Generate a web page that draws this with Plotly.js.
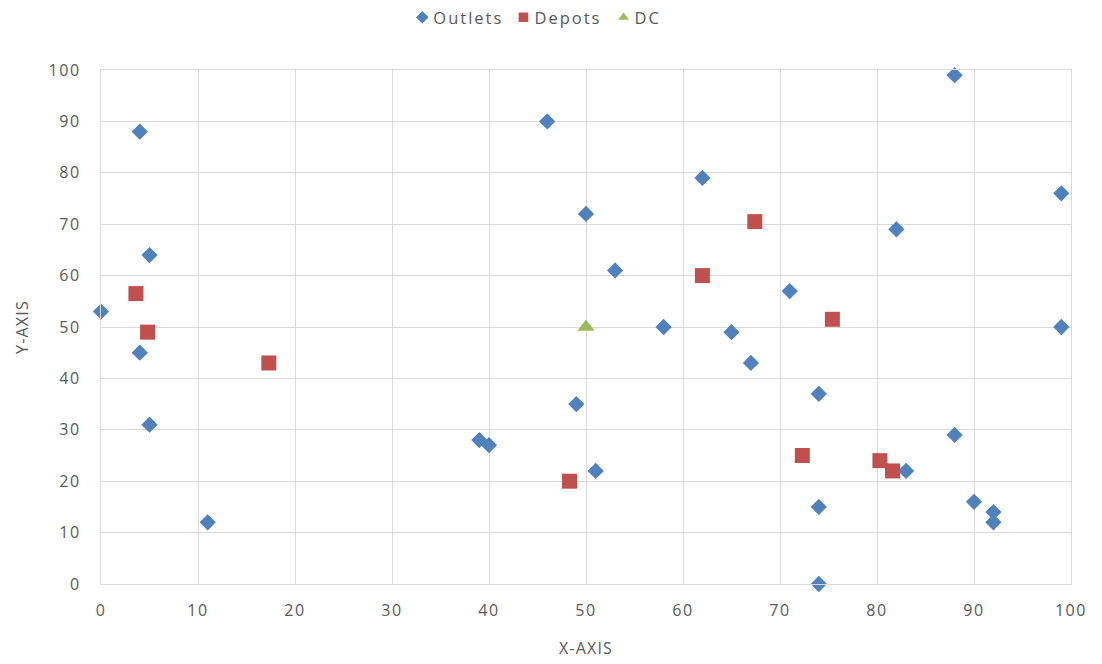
<!DOCTYPE html>
<html>
<head>
<meta charset="utf-8">
<script src="https://cdn.plot.ly/plotly-3.0.1.min.js"></script>
<style>
  html, body { margin: 0; padding: 0; background: #ffffff; }
  #chart { width: 1102px; height: 664px; }
  /* slightly spaced lettering on axis and legend text */
  #chart .xtick text, #chart .ytick text { letter-spacing: 1.6px; }
  #chart .legendtext { letter-spacing: 2px; }
  #chart .g-xtitle text, #chart .g-ytitle text { letter-spacing: 1.2px; }
  /* legend symbols sit close to their labels */
  #chart .legendpoints path.scatterpts { transform: translate(29px, 0px) scale(0.8); }
</style>
</head>
<body>
<div id="chart"></div>
<script>
// Outlet locations
const outletX = [0, 4, 5, 4, 5, 11, 39, 40, 46, 50, 49, 51, 53, 58, 62, 65, 67, 71, 74, 74, 74, 88, 82, 83, 88, 90, 92, 92, 99, 99];
const outletY = [53, 88, 64, 45, 31, 12, 28, 27, 90, 72, 35, 22, 61, 50, 79, 49, 43, 57, 37, 15, 0, 99, 69, 22, 29, 16, 14, 12, 76, 50];

// Depot locations
const depotX = [3.6, 4.8, 17.3, 48.3, 62, 67.4, 75.4, 72.3, 80.3, 81.6];
const depotY = [56.5, 49, 43, 20, 60, 70.5, 51.5, 25, 24, 22];

// Distribution centre
const dcX = [50];
const dcY = [50];

const textFamily = 'Open Sans, Liberation Sans, sans-serif';
const axisFont = { family: textFamily, size: 16, color: '#595959' };
const titleFont = { family: textFamily, size: 16, color: '#595959' };
const gridColor = '#d9d9d9';

const traces = [
  {
    name: 'Outlets', type: 'scatter', mode: 'markers',
    x: outletX, y: outletY, cliponaxis: false,
    marker: { symbol: 'diamond', size: 12.5, color: '#4F81BD' }
  },
  {
    name: 'Depots', type: 'scatter', mode: 'markers',
    x: depotX, y: depotY, cliponaxis: false,
    marker: { symbol: 'square', size: 15, color: '#C0504D' }
  },
  {
    name: 'DC', type: 'scatter', mode: 'markers',
    x: dcX, y: dcY, cliponaxis: false,
    marker: { symbol: 'triangle-up', size: 15, color: '#9BBB59' }
  }
];

const layout = {
  width: 1102, height: 664,
  paper_bgcolor: '#ffffff', plot_bgcolor: '#ffffff',
  margin: { l: 101, r: 31, t: 70, b: 80 },
  showlegend: true,
  legend: {
    orientation: 'h', x: 0.44, xanchor: 'center', y: 1, yref: 'container', yanchor: 'top',
    font: { family: textFamily, size: 16.5, color: '#595959' },
    itemwidth: 30, itemsizing: 'constant', tracegroupgap: 0
  },
  xaxis: {
    range: [0, 100], dtick: 10, tick0: 0,
    showgrid: true, gridcolor: gridColor, gridwidth: 1,
    zeroline: false, showline: true, linecolor: gridColor, mirror: true,
    ticks: '', ticklabelstandoff: 12,
    tickfont: axisFont,
    title: { text: 'X-AXIS', font: titleFont, standoff: 22 }
  },
  yaxis: {
    range: [0, 100], dtick: 10, tick0: 0,
    showgrid: true, gridcolor: gridColor, gridwidth: 1,
    zeroline: false, showline: true, linecolor: gridColor, mirror: true,
    ticks: '', ticklabelstandoff: 16,
    tickfont: axisFont,
    title: { text: 'Y-AXIS', font: titleFont, standoff: 20 }
  }
};

Plotly.newPlot('chart', traces, layout, { displayModeBar: false, staticPlot: true });
</script>
</body>
</html>
